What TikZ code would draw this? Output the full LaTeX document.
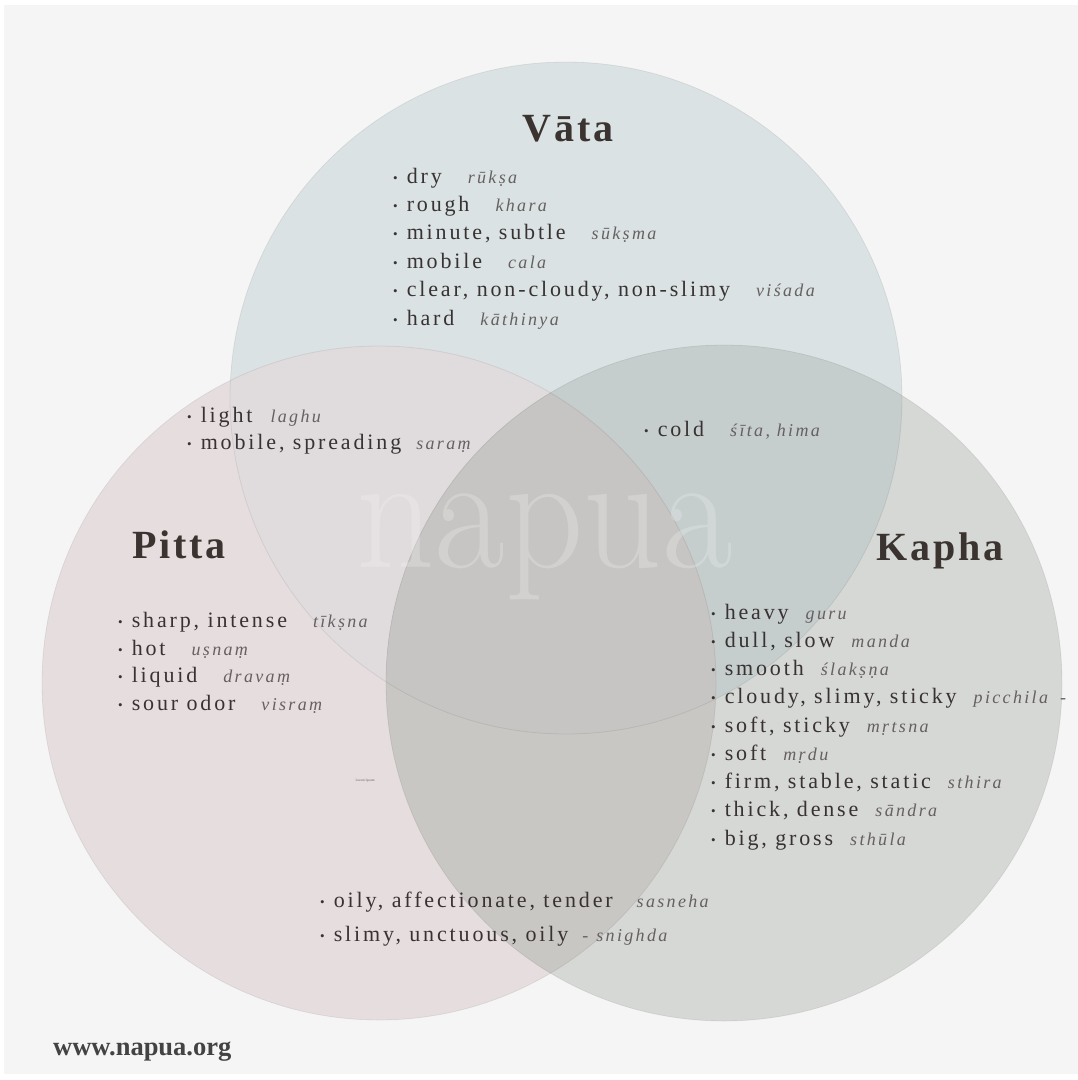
\documentclass[tikz,border=0pt]{standalone}
\usepackage{fontspec}
\newfontfamily\serif[LetterSpace=13]{Liberation Serif}
\newfontfamily\titlefam[LetterSpace=7]{Liberation Serif}
\newfontfamily\webfam{Liberation Serif}
\definecolor{bg}{HTML}{F5F5F5}
\definecolor{vata}{HTML}{DAE2E3}
\definecolor{pitta}{HTML}{E6DDDE}
\definecolor{kapha}{HTML}{D6D8D5}
\definecolor{vp}{HTML}{E0DBDD}
\definecolor{vk}{HTML}{C5CDCD}
\definecolor{pk}{HTML}{C9C7C4}
\definecolor{vpk}{HTML}{C6C5C3}
\definecolor{txt}{HTML}{383232}
\definecolor{ttl}{HTML}{3A3330}
\definecolor{trn}{HTML}{666060}
\definecolor{web}{HTML}{444242}
\newcommand\bodyfont{\serif\fontsize{22}{26}\selectfont}
\newcommand\trans[1]{{\color{trn}\fontsize{18}{22}\selectfont\itshape #1}}
\newcommand\bul{{\fontsize{13}{13}\selectfont\raisebox{1pt}{•}}\hspace{9pt}}
\newcommand\li[3][26pt]{\bul #2\hspace{#1}\trans{#3}}
\tikzset{
  item/.style={anchor=base west, inner sep=0pt, text=txt, font=\bodyfont},
  dosha/.style={anchor=base, inner sep=0pt, text=ttl, font=\titlefam\bfseries\fontsize{40}{44}\selectfont},
  rim/.style={draw=black, draw opacity=0.07, line width=0.8pt},
}
\begin{document}
\begin{tikzpicture}[x=1pt,y=-1pt]
\useasboundingbox (0,0) rectangle (1078,1080);
\fill[white] (0,0) rectangle (1078,1080);
\fill[bg] (4,5) rectangle (1078,1074);
% circles
\fill[vata] (566,398) circle[radius=336pt];
\fill[pitta] (379,683) circle[radius=337pt];
\fill[kapha] (724,683) circle[radius=338pt];
\begin{scope}
  \clip (566,398) circle[radius=336pt];
  \fill[vp] (379,683) circle[radius=337pt];
  \fill[vk] (724,683) circle[radius=338pt];
\end{scope}
\begin{scope}
  \clip (379,683) circle[radius=337pt];
  \fill[pk] (724,683) circle[radius=338pt];
  \clip (724,683) circle[radius=338pt];
  \fill[vpk] (566,398) circle[radius=336pt];
\end{scope}
\draw[rim] (566,398) circle[radius=336pt];
\draw[rim] (379,683) circle[radius=337pt];
\draw[rim] (724,683) circle[radius=338pt];
% watermark
\node[anchor=base west, inner sep=0pt, text=white, text opacity=0.22, xscale=0.92,
      text height=75pt, text depth=30pt,
      font=\rmfamily\fontsize{167}{167}\selectfont] (mark) at (356,567) {napua};
% titles
\node[dosha] (vatat) at (568,141) {Vāta};
\node[dosha] (pittat) at (179,558) {Pitta};
\node[dosha] (kaphat) at (940,560) {Kapha};
% Vata
\node[item] (v1) at (393,183) {\li{dry}{rūkṣa}};
\node[item] (v2) at (393,211.4) {\li{rough}{khara}};
\node[item] (v3) at (393,239.8) {\li{minute, subtle}{sūkṣma}};
\node[item] (v4) at (393,268.2) {\li{mobile}{cala}};
\node[item] (v5) at (393,296.6) {\li{clear, non-cloudy, non-slimy}{viśada}};
\node[item] (v6) at (393,325) {\li{hard}{kāthinya}};
% Vata & Pitta
\node[item] (vp1) at (187,422) {\li[18pt]{light}{laghu}};
\node[item] (vp2) at (187,449) {\li[15pt]{mobile, spreading}{saraṃ}};
% Vata & Kapha
\node[item] (vk1) at (644,436) {\li{cold}{śīta, hima}};
% Pitta
\node[item] (p1) at (118,627) {\li{sharp, intense}{tīkṣna}};
\node[item] (p2) at (118,655) {\li{hot}{uṣnaṃ}};
\node[item] (p3) at (118,682.5) {\li{liquid}{dravaṃ}};
\node[item] (p4) at (118,710) {\li{sour odor}{visraṃ}};
% Kapha
\node[item] (k1) at (711,619) {\li[17pt]{heavy}{guru}};
\node[item] (k2) at (711,647.25) {\li[17pt]{dull, slow}{manda}};
\node[item] (k3) at (711,675.5) {\li[17pt]{smooth}{ślakṣṇa}};
\node[item] (k4) at (711,703.75) {\li[17pt]{cloudy, slimy, sticky}{picchila\hspace{12pt}-}};
\node[item] (k5) at (711,732) {\li[17pt]{soft, sticky}{mṛtsna}};
\node[item] (k6) at (711,760.25) {\li[17pt]{soft}{mṛdu}};
\node[item] (k7) at (711,788.5) {\li[17pt]{firm, stable, static}{sthira}};
\node[item] (k8) at (711,816.75) {\li[17pt]{thick, dense}{sāndra}};
\node[item] (k9) at (711,845) {\li[17pt]{big, gross}{sthūla}};
% Pitta & Kapha
\node[item] (pk1) at (320,907) {\li[24pt]{oily, affectionate, tender}{sasneha}};
\node[item] (pk2) at (320,941) {\li[14pt]{slimy, unctuous, oily}{-\hspace{8pt}snighda}};
% small text
\node[inner sep=0pt, text=trn, font=\webfam\fontsize{3.5}{4}\selectfont] (lorem) at (365,781) {Lorem Ipsum};
% website
\node[anchor=base west, inner sep=0pt, text=web, font=\webfam\bfseries\fontsize{26.5}{30}\selectfont] (site) at (53,1055) {www.napua.org};
\end{tikzpicture}
\end{document}
